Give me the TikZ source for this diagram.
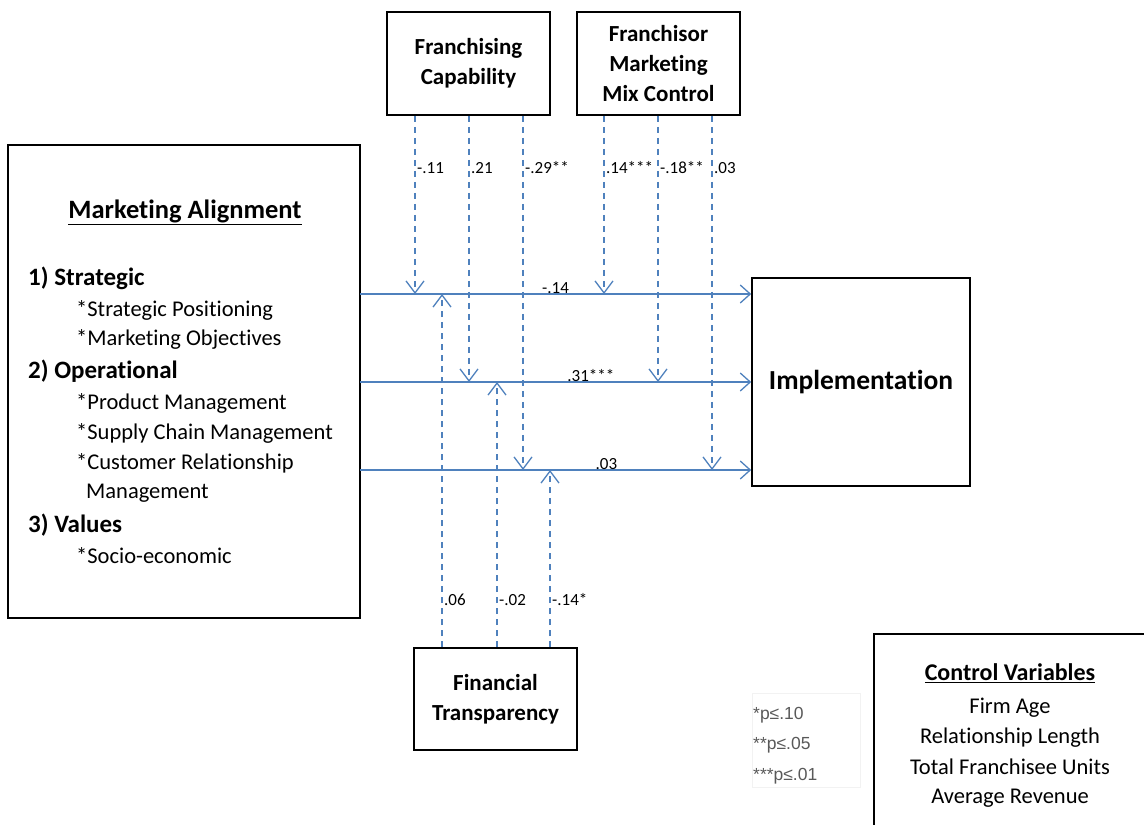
\documentclass[tikz,border=0pt]{standalone}
\usepackage{fontspec}
\setmainfont{Carlito}[Ligatures={NoCommon}]
\newfontfamily\legendfont{Liberation Sans}
\usetikzlibrary{arrows.meta}
\definecolor{linkblue}{HTML}{4F81BD}
\definecolor{legendgray}{HTML}{595959}
\tikzset{
  box/.style={draw=black, line width=1.6pt, fill=white, inner sep=0pt},
  path/.style={draw=linkblue, line width=1.3pt, -{Straight Barb[length=10pt,width=18pt,line width=1.3pt]}},
  moder/.style={draw=linkblue, line width=1.3pt, dash pattern=on 6pt off 5pt, -{Straight Barb[length=12pt,width=18pt,line width=1.3pt]}},
  coef/.style={font=\fontsize{17}{20}\selectfont, inner sep=1pt},
  boxtext/.style={font=\bfseries\fontsize{23}{30}\selectfont, align=center},
  item/.style={font=\fontsize{22.5}{26}\selectfont},
  head/.style={font=\bfseries\fontsize{25}{28}\selectfont},
  cvline/.style={font=\fontsize{22.5}{26}\selectfont, anchor=base, inner sep=0pt},
}
\begin{document}
\begin{tikzpicture}[x=1pt, y=-1pt]
\useasboundingbox (0,0) rectangle (1144,825);

% boxes
\node[box, minimum width=352pt, minimum height=473pt] (ma) at (184,381.5) {};
\node[box, minimum width=163pt, minimum height=103pt] (fc) at (468.5,63.5) {};
\node[box, minimum width=163pt, minimum height=103pt] (mm) at (658.5,63.5) {};
\node[box, minimum width=218pt, minimum height=208pt] (impl) at (861,382) {};
\node[box, minimum width=163pt, minimum height=102pt] (ft) at (495.5,699) {};
\begin{scope}
\clip (0,0) rectangle (1144,825);
\node[box, minimum width=276pt, minimum height=200pt] (cv) at (1012,734) {};
\end{scope}

% box texts
\node[boxtext] at (fc) {Franchising\\Capability};
\node[boxtext] at (mm) {Franchisor\\Marketing\\Mix Control};
\node[boxtext] at (ft) {Financial\\Transparency};
\node[font=\bfseries\fontsize{27.5}{32}\selectfont] at (impl) {Implementation};

% Marketing Alignment contents
\node[font=\bfseries\fontsize{26.5}{30}\selectfont] (matitle) at (185,212) {\underline{Marketing Alignment}};
\begin{scope}[every node/.style={anchor=west, inner sep=0pt}]
\node[head] (s1) at (28,278) {1) Strategic};
\node[item] (s1a) at (76,310) {*Strategic Positioning};
\node[item] (s1b) at (76,339) {*Marketing Objectives};
\node[head] (s2) at (28,371) {2) Operational};
\node[item] (s2a) at (76,403) {*Product Management};
\node[item] (s2b) at (76,433) {*Supply Chain Management};
\node[item] (s2c) at (76,463) {*Customer Relationship};
\node[item] (s2d) at (86,493) {Management};
\node[head] (s3) at (28,525) {3) Values};
\node[item] (s3a) at (76,556) {*Socio-economic};
\end{scope}

% Control variables
\node[font=\bfseries\fontsize{24}{28}\selectfont] (cvt) at (1010,673) {\underline{Control Variables}};
\node[cvline] (cv1) at (1010,713) {Firm Age};
\node[cvline] (cv2) at (1010,743) {Relationship Length};
\node[cvline] (cv3) at (1010,774) {Total Franchisee Units};
\node[cvline] (cv4) at (1010,803) {Average Revenue};

% significance legend
\node[draw=black!5, line width=0.6pt, minimum width=108pt, minimum height=94pt] (lgbox) at (806,740) {};
\begin{scope}[every node/.style={anchor=west, inner sep=0pt, text=legendgray, font=\legendfont\fontsize{17.5}{20}\selectfont}]
\node (l1) at (753,715) {*p≤.10};
\node (l2) at (753,745) {**p≤.05};
\node (l3) at (753,776) {***p≤.01};
\end{scope}

% points where moderators meet the main paths
\coordinate (p1) at (360,294);
\coordinate (p2) at (360,382);
\coordinate (p3) at (360,470);
\coordinate (a1) at (415,294);
\coordinate (a2) at (469,382);
\coordinate (a3) at (523,470);
\coordinate (b1) at (604,294);
\coordinate (b2) at (658,382);
\coordinate (b3) at (712,470);
\coordinate (c1) at (442,294);
\coordinate (c2) at (497,382);
\coordinate (c3) at (550,470);

% main paths
\draw[path] (p1) -- (impl.west |- p1) node[pos=0.5, above, coef, yshift=-1pt] {-.14};
\draw[path] (p2) -- (impl.west |- p2) node[pos=0.59, above, coef, yshift=-1pt] {.31***};
\draw[path] (p3) -- (impl.west |- p3) node[pos=0.63, above, coef, yshift=-1pt] {.03};

% moderating paths
\draw[moder] (fc.south -| a1) -- (a1);
\draw[moder] (fc.south -| a2) -- (a2);
\draw[moder] (fc.south -| a3) -- (a3);
\draw[moder] (mm.south -| b1) -- (b1);
\draw[moder] (mm.south -| b2) -- (b2);
\draw[moder] (mm.south -| b3) -- (b3);
\draw[moder] (ft.north -| c1) -- (c1);
\draw[moder] (ft.north -| c2) -- (c2);
\draw[moder] (ft.north -| c3) -- (c3);

% moderator coefficients
\node[coef, anchor=west] at (416,168) {-.11};
\node[coef, anchor=west] at (470,168) {.21};
\node[coef, anchor=west] at (524,168) {-.29**};
\node[coef, anchor=west] at (605,168) {.14***};
\node[coef, anchor=west] at (659,168) {-.18**};
\node[coef, anchor=west] at (713,168) {.03};
\node[coef, anchor=west] at (443,600) {.06};
\node[coef, anchor=west] at (498,600) {-.02};
\node[coef, anchor=west] at (551,600) {-.14*};
\end{tikzpicture}
\end{document}
